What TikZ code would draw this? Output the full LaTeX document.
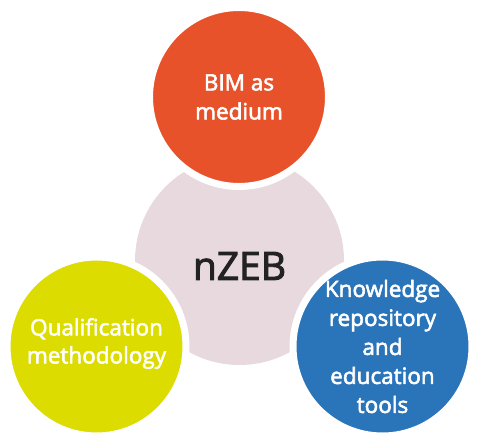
\documentclass[tikz,border=0pt]{standalone}
\usepackage{fontspec}
\setmainfont{Open Sans}
\newfontfamily\medfont{Open Sans}[FakeBold=2.5]
\definecolor{cOrange}{HTML}{E8522B}
\definecolor{cYellow}{HTML}{DDDC00}
\definecolor{cBlue}{HTML}{2A74BA}
\definecolor{cPink}{HTML}{E7D9DE}
\definecolor{cDark}{HTML}{222222}
\tikzset{
  hub/.style={circle, fill=cPink, minimum size=209pt, inner sep=0pt},
  petal/.style={circle, minimum size=179pt, inner sep=0pt, draw=white, line width=7pt,
    text=white, align=center, font=\medfont\fontsize{22.5}{29}\selectfont},
}
\begin{document}
\begin{tikzpicture}[x=1pt,y=-1pt]
\useasboundingbox (0,0) rectangle (480,444);
\node[hub] (hub) at (239.5,260.5) {};
\node[text=cDark, font=\medfont\fontsize{39}{42}\selectfont] (hubtext) at (239.5,266) {nZEB};
\node[petal, fill=cOrange] (bim) at (239,97) {BIM as\\medium};
\node[petal, fill=cYellow] (qual) at (96.5,346.5) {};
\node[text=white, align=center, font=\medfont\fontsize{22.5}{28}\selectfont] (qualtext) at (96.5,343.5) {Qualification\\methodology};
\node[petal, fill=cBlue] (know) at (382.5,346.5) {Knowledge\\repository\\and\\education\\tools};
\end{tikzpicture}
\end{document}
